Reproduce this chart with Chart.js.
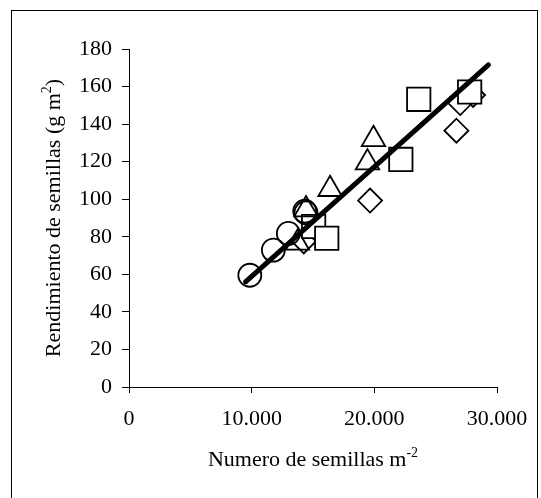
<!DOCTYPE html>
<html>
<head>
<meta charset="utf-8">
<script src="https://cdn.jsdelivr.net/npm/chart.js@4"></script>
<style>
  html, body { margin: 0; padding: 0; background: #fff; }
  #wrap { position: relative; width: 541px; height: 498px; overflow: hidden; }
  #frame { position: absolute; left: 11px; top: 10px; width: 525px; height: 520px; border: 1px solid #000; pointer-events: none; }
  canvas { position: absolute; left: 0; top: 0; }
</style>
</head>
<body>
<div id="wrap">
  <canvas id="chart" width="541" height="498"></canvas>
  <div id="frame"></div>
</div>
<script>
// axis ticks
const xTickLabels = ['0', '10.000', '20.000', '30.000'];
const yMax = 180;
const yStep = 20;

// one pair of arrays per marker shape
const circleX = [9850, 11770, 12990, 14430, 14330];
const circleY = [59.5, 72.9, 81.8, 92.8, 93.6];
const triangleX = [13730, 14430, 16390, 19440, 19930];
const triangleY = [76.7, 94.5, 105.3, 119.5, 131.9];
const squareX = [15050, 16120, 22160, 23620, 27770];
const squareY = [85.5, 79.2, 121.2, 153.2, 157.1];
const diamondX = [14250, 19650, 26690, 27000, 28050];
const diamondY = [77.5, 99.3, 136.5, 151.2, 155.5];

// regression line ends
const fitX = [9500, 29300];
const fitY = [56, 171.5];

const xTitle = 'Numero de semillas m';
const xTitleSup = '-2';
const yTitle = 'Rendimiento de semillas (g m';
const yTitleSup = '2';
const yTitleEnd = ')';

const FONT = '"Liberation Serif", "Times New Roman", serif';

const pairs = (xs, ys) => xs.map((x, i) => ({ x, y: ys[i] }));

function markerSet(label, xs, ys, style, radius, fill, order) {
  return {
    label,
    data: pairs(xs, ys),
    pointStyle: style,
    pointRadius: radius,
    pointHoverRadius: radius,
    pointBorderWidth: 1.8,
    borderColor: '#000',
    backgroundColor: fill,
    showLine: false,
    order,
  };
}

// titles with superscripts, drawn next to the scales
const axisTitles = {
  id: 'axisTitles',
  afterDraw(chart) {
    const { ctx, chartArea } = chart;
    const main = `22px ${FONT}`;
    const small = `14px ${FONT}`;
    ctx.save();
    ctx.fillStyle = '#000';
    ctx.textBaseline = 'alphabetic';

    // x title
    ctx.font = main;
    const w1 = ctx.measureText(xTitle).width;
    ctx.font = small;
    const w2 = ctx.measureText(xTitleSup).width;
    let x = (chartArea.left + chartArea.right) / 2 - (w1 + w2) / 2;
    const base = 466;
    ctx.font = main;
    ctx.textAlign = 'left';
    ctx.fillText(xTitle, x, base);
    ctx.font = small;
    ctx.fillText(xTitleSup, x + w1, base - 9);

    // y title, rotated
    ctx.font = main;
    const a = ctx.measureText(yTitle).width;
    const c = ctx.measureText(yTitleEnd).width;
    ctx.font = small;
    const b = ctx.measureText(yTitleSup).width;
    ctx.translate(60, (chartArea.top + chartArea.bottom) / 2);
    ctx.rotate(-Math.PI / 2);
    let s = -(a + b + c) / 2;
    ctx.font = main;
    ctx.fillText(yTitle, s, 0);
    ctx.font = small;
    ctx.fillText(yTitleSup, s + a, -9);
    ctx.font = main;
    ctx.fillText(yTitleEnd, s + a + b, 0);
    ctx.restore();
  },
};

new Chart(document.getElementById('chart'), {
  type: 'scatter',
  data: {
    datasets: [
      {
        type: 'line',
        label: 'Ajuste',
        data: pairs(fitX, fitY),
        borderColor: '#000',
        borderWidth: 5,
        borderCapStyle: 'round',
        pointRadius: 0,
        fill: false,
        order: 0,
      },
      markerSet('Triángulos', triangleX, triangleY, 'triangle', 13.5, 'rgba(255,255,255,0)', 1),
      markerSet('Círculos', circleX, circleY, 'circle', 11.5, 'rgba(255,255,255,0)', 2),
      markerSet('Cuadrados', squareX, squareY, 'rect', 16.5, '#fff', 3),
      markerSet('Rombos', diamondX, diamondY, 'rectRot', 12, 'rgba(255,255,255,0)', 4),
    ],
  },
  options: {
    responsive: false,
    animation: false,
    events: [],
    layout: { padding: { left: 0, top: 49, right: 44, bottom: 0 } },
    plugins: {
      legend: { display: false },
      tooltip: { enabled: false },
    },
    scales: {
      x: {
        type: 'linear',
        min: 0,
        max: 30000,
        afterFit: (scale) => { scale.height = 111; },
        ticks: {
          stepSize: 10000,
          color: '#000',
          font: { family: FONT, size: 22 },
          padding: 13,
          maxRotation: 0,
          callback: (value, index) => xTickLabels[index],
        },
        grid: { drawOnChartArea: false, tickLength: 6, color: '#000', lineWidth: 1 },
        border: { display: true, color: '#000', width: 1 },
      },
      y: {
        min: 0,
        max: yMax,
        afterFit: (scale) => { scale.width = 129; },
        ticks: {
          stepSize: yStep,
          color: '#000',
          font: { family: FONT, size: 22 },
          padding: 10,
        },
        grid: { drawOnChartArea: false, tickLength: 7, color: '#000', lineWidth: 1 },
        border: { display: true, color: '#000', width: 1 },
      },
    },
  },
  plugins: [axisTitles],
});
</script>
</body>
</html>
